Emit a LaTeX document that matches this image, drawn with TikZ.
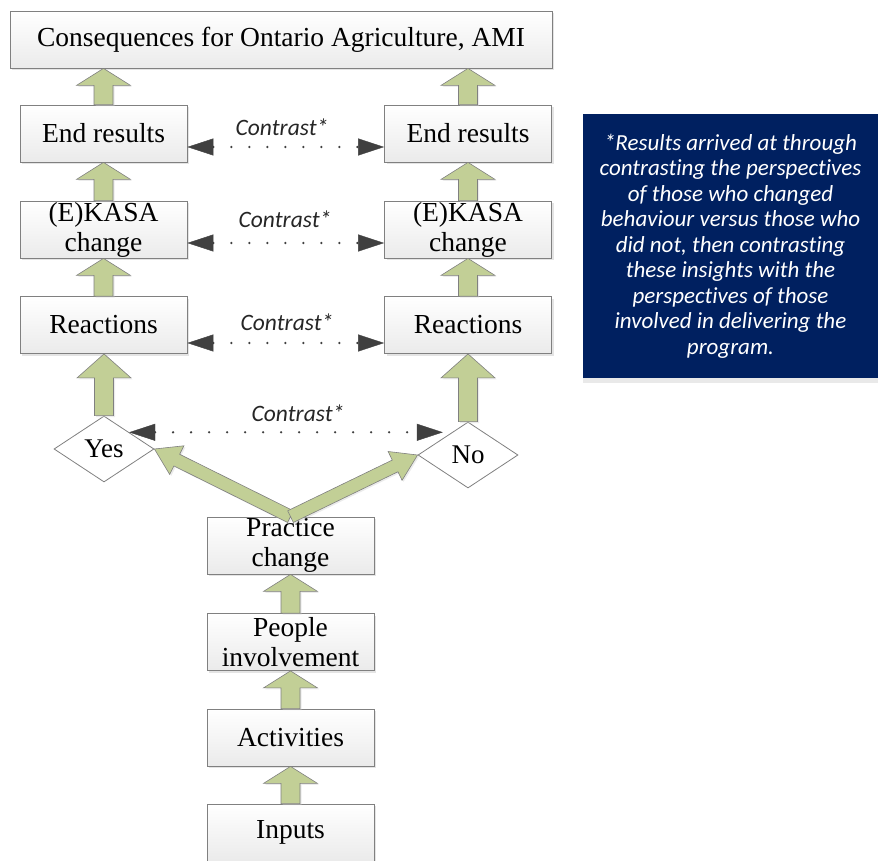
\documentclass[tikz,border=0pt]{standalone}
\usepackage{fontspec}
\setmainfont{Liberation Serif}
\newfontfamily\calibri[Ligatures=NoCommon]{Carlito}
\usetikzlibrary{shapes.geometric,arrows.meta,shadows,calc}

\definecolor{arrowgreen}{RGB}{194,207,150}
\definecolor{notenavy}{RGB}{0,32,96}
\definecolor{tipgray}{RGB}{64,64,64}
\definecolor{edgegray}{RGB}{128,128,128}

% block arrow: from, to, half shaft, half head, head length
\newcommand{\blockarrow}[5]{%
    \path (#1) coordinate (ba-s) (#2) coordinate (ba-t);
    \path ($(ba-t)!#5pt!(ba-s)$) coordinate (ba-b);
    \filldraw[fatarrow] ($(ba-s)!#3pt!90:(ba-t)$) -- ($(ba-b)!#3pt!90:(ba-t)$)
        -- ($(ba-b)!#4pt!90:(ba-t)$) -- (ba-t) -- ($(ba-b)!#4pt!-90:(ba-t)$)
        -- ($(ba-b)!#3pt!-90:(ba-t)$) -- ($(ba-s)!#3pt!-90:(ba-t)$) -- cycle;
}

\tikzset{
    box/.style={draw=edgegray, line width=0.8pt, top color=white, bottom color=gray!16,
        drop shadow={shadow xshift=2pt, shadow yshift=-2pt, fill=gray!35, opacity=0.6},
        inner sep=0pt, minimum height=57pt, align=center,
        font=\rmfamily\fontsize{27.5}{30}\selectfont},
    choice/.style={diamond, draw=edgegray, line width=0.8pt, fill=white, inner sep=0pt,
        minimum width=100pt, minimum height=66pt, font=\rmfamily\fontsize{27}{30}\selectfont},
    fatarrow/.style={fill=arrowgreen, draw=edgegray, line width=0.6pt,
        drop shadow={shadow xshift=1.5pt, shadow yshift=-1.5pt, fill=gray!40, opacity=0.4}},
    contrast/.style={tipgray, line width=2.6pt, line cap=round, dash pattern=on 0pt off 18pt,
        {Triangle[length=26pt,width=17pt,line width=0.4pt]}-{Triangle[length=26pt,width=17pt,line width=0.4pt]}},
    lbl/.style={font=\calibri\itshape\fontsize{23.5}{27}\selectfont, text=black!85, inner sep=0pt},
    note/.style={fill=notenavy, text=white, minimum width=296pt, minimum height=264pt,
        align=center, inner sep=0pt, font=\calibri\itshape\fontsize{23}{25.5}\selectfont,
        drop shadow={shadow xshift=0pt, shadow yshift=-5pt, fill=gray!25, opacity=0.7}}
}

\begin{document}
\begin{tikzpicture}[x=1pt, y=-1pt]

    \useasboundingbox (0,0) rectangle (878,861);

    % Draw top box
    \node[box, minimum width=542pt] (cons) at (281,39.5) {Consequences for Ontario Agriculture, AMI};

    % Draw the two columns
    \node[box, minimum width=167pt] (erl) at (103.5,133.5) {End results};
    \node[box, minimum width=167pt] (err) at (468,133.5) {End results};
    \node[box, minimum width=167pt] (kl) at (103.5,229.5) {(E)KASA\\change};
    \node[box, minimum width=167pt] (kr) at (468,229.5) {(E)KASA\\change};
    \node[box, minimum width=167pt] (rl) at (103.5,325) {Reactions};
    \node[box, minimum width=167pt] (rr) at (468,325) {Reactions};

    \node[choice] (yes) at (104,449) {Yes};
    \node[choice] (no) at (468,455) {No};

    % Draw the bottom column
    \node[box, minimum width=167pt] (prac) at (290.5,545.5) {Practice\\change};
    \node[box, minimum width=167pt] (ppl) at (290.5,642) {People\\involvement};
    \node[box, minimum width=167pt] (act) at (290.5,737.5) {Activities};
    \node[box, minimum width=167pt] (inp) at (290.5,832.5) {Inputs};

    % Draw note
    \node[note] (note) at (730.5,246) {*Results arrived at through\\contrasting the perspectives\\of those who changed\\behaviour versus those who\\did not, then contrasting\\these insights with the\\perspectives of those\\involved in delivering the\\program.};

    % Draw block arrows
    \foreach \a/\b in {inp/act, act/ppl, ppl/prac, kl/erl, kr/err, rl/kl, rr/kr}
        \blockarrow{\a.north}{\b.south}{9.5}{27}{17};

    \foreach \a in {erl, err}
        \blockarrow{\a.north}{\a.north |- cons.south}{9.5}{27}{17};

    \blockarrow{yes.north}{yes.north |- rl.south}{9.5}{27}{24};
    \blockarrow{no.north}{no.north |- rr.south}{9.5}{27}{24};

    \blockarrow{prac.north}{yes.east}{6.5}{16}{25};
    \blockarrow{prac.north}{no.west}{6.5}{16}{25};

    % Draw contrast arrows
    \draw[contrast] ([yshift=-13.5pt]erl.east) -- ([yshift=-13.5pt]err.west);
    \draw[contrast] ([yshift=-13.5pt]kl.east) -- ([yshift=-13.5pt]kr.west);
    \draw[contrast] ([yshift=-18pt]rl.east) -- ([yshift=-18pt]rr.west);
    \draw[contrast] (yes.north east) -- (yes.north east -| no.north west);

    \node[lbl] (c1) at (282,127) {Contrast*};
    \node[lbl] (c2) at (285,219) {Contrast*};
    \node[lbl] (c3) at (287,322) {Contrast*};
    \node[lbl] (c4) at (298,413) {Contrast*};

\end{tikzpicture}
\end{document}
